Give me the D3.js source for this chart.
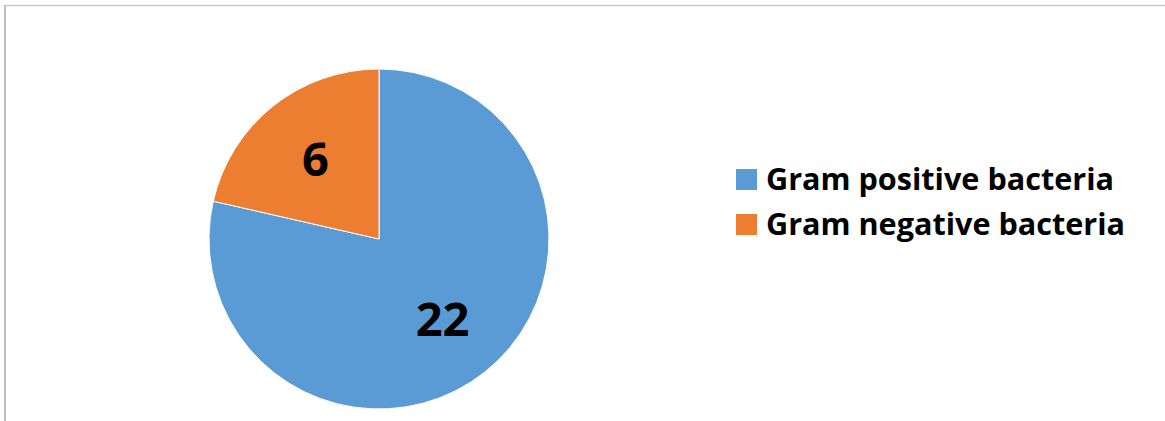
<!DOCTYPE html>
<html>
<head>
<meta charset="utf-8">
<script src="https://cdn.jsdelivr.net/npm/d3@7"></script>
<style>
  html, body { margin: 0; padding: 0; background: #fff; }
  svg { display: block; }
</style>
</head>
<body>
<div id="chart"></div>
<script>
// data
const categories = ["Gram positive bacteria", "Gram negative bacteria"];
const values = [22, 6];
const colors = ["#5B9BD5", "#ED7D31"];

const width = 1165;
const height = 421;
const cx = 379, cy = 239, radius = 170;
const font = "'Open Sans', 'Liberation Sans', Arial, sans-serif";

const svg = d3.select("#chart")
  .append("svg")
  .attr("width", width)
  .attr("height", height);

svg.append("rect")
  .attr("width", width)
  .attr("height", height)
  .attr("fill", "#fff");

// chart area border (only top and left show in the frame)
svg.append("line")
  .attr("x1", 4).attr("y1", 5.5)
  .attr("x2", width).attr("y2", 5.5)
  .attr("stroke", "#c9c9c9")
  .attr("stroke-width", 1.5);
svg.append("line")
  .attr("x1", 5).attr("y1", 5)
  .attr("x2", 5).attr("y2", height)
  .attr("stroke", "#c0c0c0")
  .attr("stroke-width", 2);

const pie = d3.pie()
  .sort(null)
  .value(d => d);

const arc = d3.arc()
  .innerRadius(0)
  .outerRadius(radius);

const labelArc = d3.arc()
  .innerRadius(0)
  .outerRadius(radius * 1.2);

const g = svg.append("g")
  .attr("transform", "translate(" + cx + "," + cy + ")");

const arcs = pie(values);

g.selectAll("path.slice")
  .data(arcs)
  .enter()
  .append("path")
  .attr("class", "slice")
  .attr("d", arc)
  .attr("fill", (d, i) => colors[i])
  .attr("stroke", "#fff")
  .attr("stroke-width", 1);

// data labels
g.selectAll("text.lbl")
  .data(arcs)
  .enter()
  .append("text")
  .attr("class", "lbl")
  .attr("transform", d => "translate(" + labelArc.centroid(d) + ")")
  .attr("text-anchor", "middle")
  .attr("dy", "0.36em")
  .style("font-family", font)
  .style("font-weight", "bold")
  .style("font-size", "47px")
  .attr("fill", "#000")
  .text(d => d.data);

// legend
const legend = svg.append("g")
  .attr("transform", "translate(736,169)");

const items = legend.selectAll("g.item")
  .data(categories)
  .enter()
  .append("g")
  .attr("class", "item")
  .attr("transform", (d, i) => "translate(0," + (i * 45) + ")");

items.append("rect")
  .attr("width", 21)
  .attr("height", 21)
  .attr("fill", (d, i) => colors[i]);

items.append("text")
  .attr("x", 30)
  .attr("y", 21)
  .style("font-family", font)
  .style("font-weight", "bold")
  .style("font-size", "30px")
  .attr("fill", "#000")
  .text(d => d);

// fit legend text to the width of the original
items.select("text").each(function(d, i) {
  const target = i === 0 ? 348 : 359;
  const w = this.getComputedTextLength();
  if (Math.abs(w - target) > 3) {
    d3.select(this).attr("textLength", target).attr("lengthAdjust", "spacingAndGlyphs");
  }
});
</script>
</body>
</html>
